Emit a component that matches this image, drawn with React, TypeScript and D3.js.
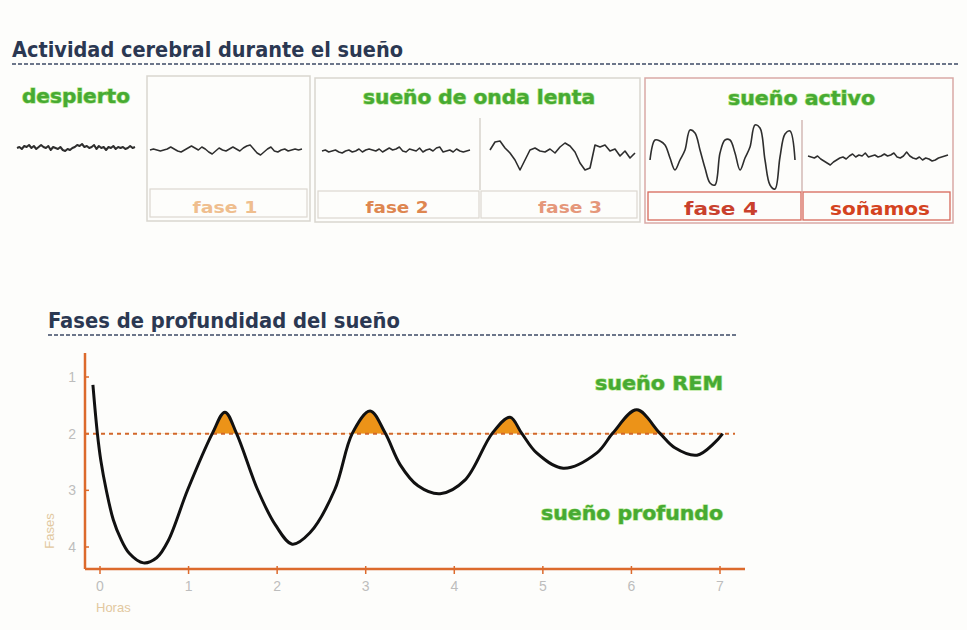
import React from "react";
import * as d3 from "d3";

// ---- Sleep depth curve (hours vs phase) ----
const hours = [-0.08, -0.03, 0.01, 0.07, 0.15, 0.23, 0.33, 0.49, 0.64, 0.77, 0.99, 1.27, 1.41, 1.54, 1.78, 1.98, 2.17, 2.37, 2.65, 2.85, 3.05, 3.22, 3.39, 3.59, 3.84, 4.12, 4.43, 4.63, 4.76, 4.93, 5.23, 5.61, 5.79, 6.06, 6.32, 6.49, 6.74, 6.94, 7.03];
const phases = [1.14, 1.99, 2.48, 2.99, 3.52, 3.84, 4.11, 4.28, 4.19, 3.89, 2.99, 1.99, 1.62, 1.99, 2.99, 3.61, 3.95, 3.75, 2.99, 1.99, 1.6, 1.99, 2.55, 2.92, 3.06, 2.82, 1.99, 1.71, 1.99, 2.34, 2.61, 2.34, 1.99, 1.58, 1.99, 2.25, 2.38, 2.16, 2.0];
const xTicks = [0, 1, 2, 3, 4, 5, 6, 7];
const yTicks = [1, 2, 3, 4];
const remLevel = 2;

// ---- EEG traces (amplitude, positive = up) ----
const eegDespierto = [0, 1, -1, 2, 1, 3, 0, 2, -1, 1, 3, 1, 0, 2, -2, 1, 0, -1, 1, -2, -3, -1, -2, 0, 1, 3, 2, 4, 1, 2, 0, 1, 3, -1, 2, 0, 1, -2, 1, 0, 2, -1, 1, 0, 1, -1, 0, 2, 0, 1];
const eegFase1 = [0, 1, 0, -1, 0, 1, 3, 1, -1, -2, 0, 2, 4, 2, 0, 3, 1, -2, -4, -1, 2, 0, -1, 1, 3, 1, -1, 2, 4, 5, 1, -3, -5, -2, 1, 3, -1, -2, 0, 1, -1, 0, 1, 0, 1];
const eegFase2 = [0, 1, -1, 0, 1, -1, -2, 0, 1, -1, 0, 2, -1, 1, 2, 1, 0, 2, -1, 1, 3, 1, 2, 4, 0, -1, 2, 1, 0, 3, -1, 1, 2, 0, 3, 4, -1, 0, 1, -1, 2, 0, -1, 0, 1];
const eegFase3 = [2, 10, 11, 4, -1, -8, -18, -8, 2, 4, 1, 0, 3, -1, 5, 9, 6, 0, -11, -18, -16, 7, 5, 7, 1, 3, -4, 1, -6, -1];
const eegFase4 = [-5, 15, 14, 10, -3, -15, -5, 5, 25, 22, 5, -13, -28, -30, 2, 15, 15, 2, -15, -3, 8, 30, 27, -5, -30, -34, -2, 21, 24, -5];
const eegSonamos = [2, 1, 0, 2, -1, -3, -5, -7, -4, -2, 0, 1, -1, 2, 4, 1, 3, 2, 5, 1, 2, 3, 1, 2, 4, 2, 3, 5, 1, 0, 2, 6, 2, 0, -1, 1, -2, 0, -1, -3, -2, 0, 1, 2, 3];

const COND = "'DejaVu Sans Condensed', 'Liberation Sans Narrow', 'Roboto Condensed', 'Liberation Sans', sans-serif";
const SANS = "'Liberation Sans', Arial, sans-serif";
const GREEN = "#47aa33";

function Trace({ data, x0, x1, cy, curve, w }: any) {
  const xs = d3.scaleLinear().domain([0, data.length - 1]).range([x0, x1]);
  const ys = d3.scaleLinear().domain([-1, 1]).range([cy + 1, cy - 1]);
  const line = d3.line<number>().x((_, i) => xs(i)).y((d) => ys(d)).curve(curve);
  return <path d={line(data) || ""} fill="none" stroke="#2e2e2e" strokeWidth={w} strokeLinejoin="round" />;
}

function GreenText({ x, y, len, children, anchor }: any) {
  return (
    <text x={x} y={y} fontFamily={COND} fontWeight="bold" fontSize={20} fill={GREEN}
      stroke="#a6e27c" strokeWidth={1.2} paintOrder="stroke" textLength={len} lengthAdjust="spacingAndGlyphs" textAnchor={anchor || "start"}>
      {children}
    </text>
  );
}

function Fase({ x, y, len, color, size, children }: any) {
  return (
    <text x={x} y={y} fontFamily={COND} fontWeight="bold" fontSize={size || 16} fill={color}
      textAnchor="middle" textLength={len} lengthAdjust="spacingAndGlyphs">{children}</text>
  );
}

export default function App() {
  const x = d3.scaleLinear().domain([0, 7]).range([100, 720]);
  const y = d3.scaleLinear().domain([1, 4]).range([377, 547]);
  const pts: [number, number][] = hours.map((h, i) => [h, phases[i]]);
  const curve = d3.curveCatmullRom.alpha(0.5);
  const line = d3.line<[number, number]>().x((d) => x(d[0])).y((d) => y(d[1])).curve(curve);
  const area = d3.area<[number, number]>().x((d) => x(d[0])).y0(y(remLevel)).y1((d) => y(d[1])).curve(curve);
  const axisX = 85;
  const axisY = 569;
  const axisColor = "#dc6a2c";

  return (
    <svg width={967} height={630} style={{ position: "absolute", left: 0, top: 0, background: "#fdfdfb" }}>
      <defs>
        <clipPath id="remClip">
          <rect x={x(0.5)} y={340} width={680} height={y(remLevel) - 340} />
        </clipPath>
      </defs>

      {/* ---------- Top section ---------- */}
      <text x={12} y={57} fontFamily={COND} fontWeight="bold" fontSize={21} fill="#2b3852"
        textLength={391} lengthAdjust="spacingAndGlyphs">Actividad cerebral durante el sueño</text>
      <line x1={12} x2={960} y1={64} y2={64} stroke="#3c4a66" strokeWidth={1.5} strokeDasharray="4 2" />

      {/* boxes */}
      <rect x={147} y={76} width={163} height={145} fill="none" stroke="#d9d6cf" strokeWidth={1.5} />
      <rect x={150} y={189} width={157} height={28} fill="none" stroke="#dcd8d0" strokeWidth={1.2} />

      <rect x={315} y={78} width={325} height={144} fill="none" stroke="#d9d6cf" strokeWidth={1.5} />
      <line x1={480} x2={480} y1={118} y2={190} stroke="#cfcac2" strokeWidth={1.2} />
      <rect x={318} y={191} width={161} height={27} fill="none" stroke="#dcd8d0" strokeWidth={1.2} />
      <rect x={481} y={191} width={156} height={27} fill="none" stroke="#dcd8d0" strokeWidth={1.2} />

      <rect x={645} y={78} width={308} height={145} fill="none" stroke="#d9a9a6" strokeWidth={1.5} />
      <line x1={802} x2={802} y1={120} y2={192} stroke="#c9a8a4" strokeWidth={1.2} />
      <rect x={648} y={192} width={153} height={28} fill="none" stroke="#d8695a" strokeWidth={1.3} />
      <rect x={803} y={192} width={147} height={28} fill="none" stroke="#d8695a" strokeWidth={1.3} />

      <GreenText x={22} y={103} len={108}>despierto</GreenText>
      <GreenText x={363} y={104} len={232}>sueño de onda lenta</GreenText>
      <GreenText x={728} y={105} len={147}>sueño activo</GreenText>

      <Trace data={eegDespierto} x0={17} x1={135} cy={148} curve={d3.curveLinear} w={2} />
      <Trace data={eegFase1} x0={150} x1={302} cy={150} curve={d3.curveLinear} w={1.5} />
      <Trace data={eegFase2} x0={322} x1={470} cy={151} curve={d3.curveLinear} w={1.5} />
      <Trace data={eegFase3} x0={490} x1={635} cy={152} curve={d3.curveLinear} w={1.6} />
      <Trace data={eegFase4} x0={650} x1={795} cy={155} curve={d3.curveCatmullRom} w={1.6} />
      <Trace data={eegSonamos} x0={808} x1={948} cy={158} curve={d3.curveLinear} w={1.5} />

      <Fase x={225} y={213} len={65} color="#efbe8e">fase 1</Fase>
      <Fase x={397} y={213} len={63} color="#de8650">fase 2</Fase>
      <Fase x={570} y={213} len={64} color="#e5977a">fase 3</Fase>
      <Fase x={721} y={215} len={74} color="#c9402c" size={18}>fase 4</Fase>
      <Fase x={880} y={215} len={100} color="#d4431f" size={18}>soñamos</Fase>

      {/* ---------- Bottom section ---------- */}
      <text x={48} y={328} fontFamily={COND} fontWeight="bold" fontSize={21} fill="#2b3852"
        textLength={352} lengthAdjust="spacingAndGlyphs">Fases de profundidad del sueño</text>
      <line x1={48} x2={738} y1={335} y2={335} stroke="#3c4a66" strokeWidth={1.5} strokeDasharray="4 2" />

      {/* REM fill */}
      <path d={area(pts) || ""} fill="#ec9318" clipPath="url(#remClip)" />
      {/* REM threshold dotted line */}
      <line x1={axisX} x2={735} y1={y(remLevel)} y2={y(remLevel)} stroke="#d2672a" strokeWidth={2} strokeDasharray="4 4" />

      {/* axes */}
      <line x1={axisX} x2={axisX} y1={353} y2={axisY} stroke={axisColor} strokeWidth={2.5} />
      <line x1={axisX} x2={745} y1={axisY} y2={axisY} stroke={axisColor} strokeWidth={2.5} />
      {yTicks.map((t) => (
        <g key={"y" + t}>
          <line x1={axisX} x2={axisX + 4} y1={y(t)} y2={y(t)} stroke={axisColor} strokeWidth={1.5} />
          <text x={76} y={y(t) + 5} fontFamily={SANS} fontSize={14} fill="#bdbdbd" textAnchor="end">{t}</text>
        </g>
      ))}
      {xTicks.map((t) => (
        <g key={"x" + t}>
          <line x1={x(t)} x2={x(t)} y1={axisY - 3} y2={axisY + 5} stroke={axisColor} strokeWidth={1.5} />
          <text x={x(t)} y={591} fontFamily={SANS} fontSize={14} fill="#bdbdbd" textAnchor="middle">{t}</text>
        </g>
      ))}
      <text x={96} y={612} fontFamily={SANS} fontSize={13} fill="#e2c8a0">Horas</text>
      <text transform="translate(54,531) rotate(-90)" fontFamily={SANS} fontSize={13} fill="#e2c8a0" textAnchor="middle">Fases</text>

      {/* sleep curve */}
      <path d={line(pts) || ""} fill="none" stroke="#111" strokeWidth={3} strokeLinejoin="round" />

      <GreenText x={723} y={390} len={128} anchor="end">sueño REM</GreenText>
      <GreenText x={723} y={520} len={182} anchor="end">sueño profundo</GreenText>
    </svg>
  );
}
